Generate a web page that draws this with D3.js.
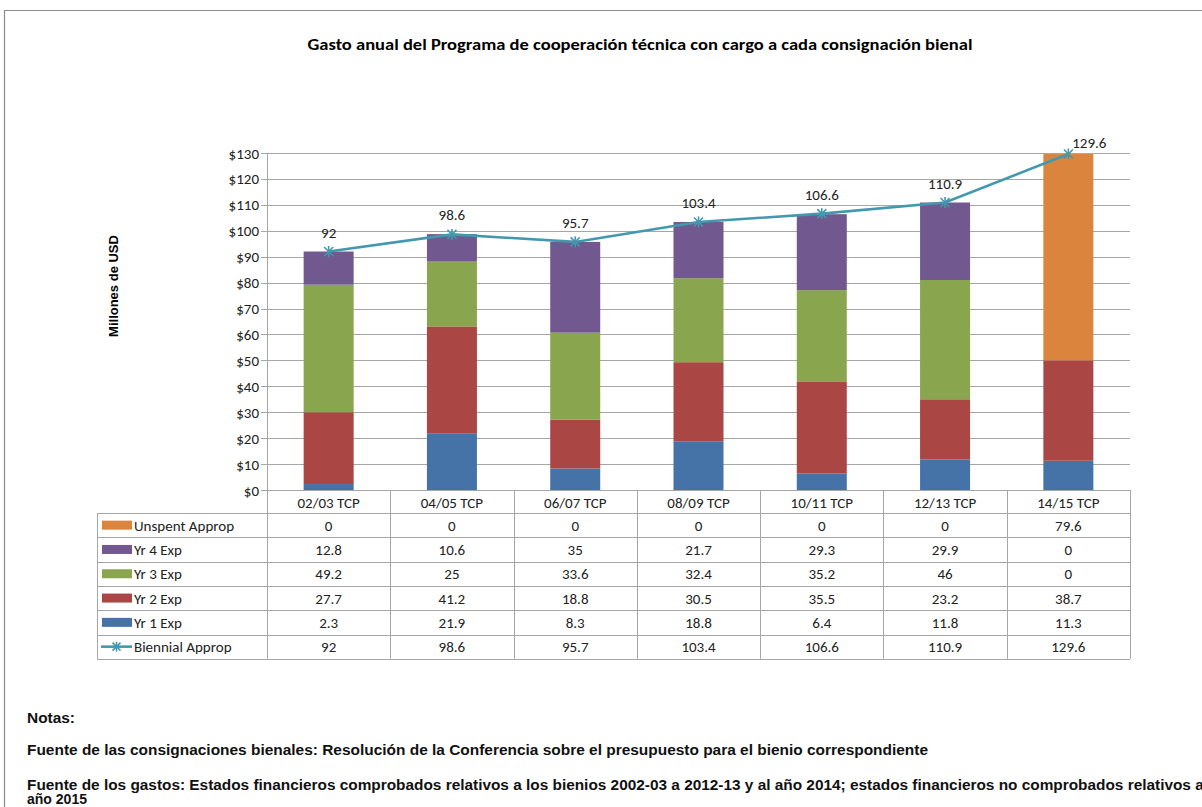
<!DOCTYPE html>
<html><head><meta charset="utf-8">
<script src="https://cdn.jsdelivr.net/npm/d3@7"></script>
<style>
body{margin:0;background:#fff;}
svg{display:block;}
</style></head>
<body>
<svg id="chart" width="1202" height="807"></svg>
<script>
const categories = ["02/03 TCP","04/05 TCP","06/07 TCP","08/09 TCP","10/11 TCP","12/13 TCP","14/15 TCP"];
const yr1Exp = [2.3,21.9,8.3,18.8,6.4,11.8,11.3];
const yr2Exp = [27.7,41.2,18.8,30.5,35.5,23.2,38.7];
const yr3Exp = [49.2,25,33.6,32.4,35.2,46,0];
const yr4Exp = [12.8,10.6,35,21.7,29.3,29.9,0];
const unspentApprop = [0,0,0,0,0,0,79.6];
const biennialApprop = [92,98.6,95.7,103.4,106.6,110.9,129.6];
const yTicks = [0,10,20,30,40,50,60,70,80,90,100,110,120,130];

const seriesNames = ["Yr 1 Exp","Yr 2 Exp","Yr 3 Exp","Yr 4 Exp","Unspent Approp"];
const seriesData = [yr1Exp,yr2Exp,yr3Exp,yr4Exp,unspentApprop];
const colors = ["#4572A7","#AA4643","#89A54E","#71588F","#DB843D"];
const lineColor = "#4198AF";

const svg = d3.select("#chart");
const font = "Carlito, Calibri, 'Open Sans', sans-serif";
const fs = 15;

// outer frame
svg.append("line").attr("x1",4).attr("x2",1202).attr("y1",10.5).attr("y2",10.5).attr("stroke","#8c8c8c").attr("stroke-width",1.2);
svg.append("line").attr("x1",4.5).attr("x2",4.5).attr("y1",10).attr("y2",807).attr("stroke","#8c8c8c").attr("stroke-width",1.2);

svg.append("text").attr("x",640).attr("y",50).attr("text-anchor","middle")
  .attr("font-family",font).attr("font-weight","bold").attr("font-size",15)
  .attr("textLength",665).attr("lengthAdjust","spacingAndGlyphs")
  .text("Gasto anual del Programa de cooperación técnica con cargo a cada consignación bienal");

const x0 = 267, x1 = 1130, yTop = 153, yBot = 490;
const x = d3.scaleBand().domain(categories).range([x0,x1]);
const y = d3.scaleLinear().domain([0,130]).range([yBot,yTop]);

// gridlines
svg.append("g").selectAll("line").data(yTicks).join("line")
  .attr("x1",x0-6).attr("x2",x1).attr("y1",d=>Math.round(y(d))+0.5).attr("y2",d=>Math.round(y(d))+0.5)
  .attr("stroke","#a6a6a6").attr("stroke-width",1);
svg.append("line").attr("x1",x0+0.5).attr("x2",x0+0.5).attr("y1",yTop).attr("y2",yBot).attr("stroke","#a6a6a6");

// y tick labels
svg.append("g").selectAll("text").data(yTicks).join("text")
  .attr("x",x0-8).attr("y",d=>y(d)+5.5).attr("text-anchor","end")
  .attr("font-family",font).attr("font-size",fs).attr("fill","#222")
  .text(d=>"$"+d);

svg.append("text").attr("transform","translate(118,286) rotate(-90)").attr("text-anchor","middle")
  .attr("font-family","'Liberation Sans', Arial, sans-serif").attr("font-weight","bold").attr("font-size",13)
  .text("Millones de USD");

// stacked bars
const stackInput = categories.map((c,i)=>{const o={cat:c}; seriesNames.forEach((s,j)=>o[s]=seriesData[j][i]); return o;});
const stacked = d3.stack().keys(seriesNames)(stackInput);
const bw = 50;
svg.append("g").selectAll("g").data(stacked).join("g").attr("fill",(d,i)=>colors[i])
  .selectAll("rect").data(d=>d).join("rect")
  .attr("x",d=>x(d.data.cat)+x.bandwidth()/2-bw/2).attr("width",bw)
  .attr("y",d=>y(d[1])).attr("height",d=>Math.max(0,y(d[0])-y(d[1])));

// line
const cx = c=>x(c)+x.bandwidth()/2;
svg.append("path").datum(biennialApprop)
  .attr("d",d3.line().x((d,i)=>cx(categories[i])).y(d=>y(d)))
  .attr("fill","none").attr("stroke",lineColor).attr("stroke-width",2.6);
function star(g,px,py,r){
  const s = g.append("g").attr("transform",`translate(${px},${py})`).attr("stroke",lineColor).attr("stroke-width",1.6);
  s.append("line").attr("x1",-r).attr("x2",r).attr("y1",-r).attr("y2",r);
  s.append("line").attr("x1",-r).attr("x2",r).attr("y1",r).attr("y2",-r);
  s.append("line").attr("x1",0).attr("x2",0).attr("y1",-r-1).attr("y2",r+1);
}
const markers = svg.append("g");
biennialApprop.forEach((v,i)=>star(markers,cx(categories[i]),y(v),4.5));
svg.append("g").selectAll("text").data(biennialApprop).join("text")
  .attr("x",(d,i)=>cx(categories[i])+(i===6?21:0)).attr("y",(d,i)=>y(d)-(i===6?6:14)).attr("text-anchor","middle")
  .attr("font-family",font).attr("font-size",fs).attr("fill","#222").text(d=>d);

// data table
const tLeft = 97, rowH = 24.3, tTop = 513;
const rows = [
  {name:"Unspent Approp", vals:unspentApprop, color:colors[4]},
  {name:"Yr 4 Exp", vals:yr4Exp, color:colors[3]},
  {name:"Yr 3 Exp", vals:yr3Exp, color:colors[2]},
  {name:"Yr 2 Exp", vals:yr2Exp, color:colors[1]},
  {name:"Yr 1 Exp", vals:yr1Exp, color:colors[0]},
  {name:"Biennial Approp", vals:biennialApprop, line:true}
];
const tBot = tTop + rowH*rows.length;
const grid = svg.append("g").attr("stroke","#a6a6a6").attr("stroke-width",1);
categories.forEach((c,i)=>{
  grid.append("line").attr("x1",Math.round(x(c))+0.5).attr("x2",Math.round(x(c))+0.5).attr("y1",yBot).attr("y2",tBot);
});
grid.append("line").attr("x1",x1+0.5).attr("x2",x1+0.5).attr("y1",yBot).attr("y2",tBot);
grid.append("line").attr("x1",tLeft+0.5).attr("x2",tLeft+0.5).attr("y1",tTop).attr("y2",tBot);
for(let r=0;r<=rows.length;r++){
  const yy = Math.round(tTop+r*rowH)+0.5;
  grid.append("line").attr("x1",tLeft).attr("x2",x1).attr("y1",yy).attr("y2",yy);
}
// header labels
svg.append("g").selectAll("text").data(categories).join("text")
  .attr("x",c=>cx(c)).attr("y",507.5).attr("text-anchor","middle")
  .attr("font-family",font).attr("font-size",fs).attr("fill","#222").text(c=>c);

rows.forEach((r,ri)=>{
  const yc = tTop + ri*rowH + rowH/2;
  if(r.line){
    svg.append("line").attr("x1",101).attr("x2",132).attr("y1",yc).attr("y2",yc).attr("stroke",lineColor).attr("stroke-width",2.6);
    star(svg,116.5,yc,4);
  } else {
    svg.append("rect").attr("x",102).attr("y",yc-4.5).attr("width",30).attr("height",9).attr("fill",r.color);
  }
  svg.append("text").attr("x",134).attr("y",yc+5.5).attr("font-family",font).attr("font-size",fs).attr("fill","#222").text(r.name);
  svg.append("g").selectAll("text").data(r.vals).join("text")
    .attr("x",(d,i)=>cx(categories[i])).attr("y",yc+5.5).attr("text-anchor","middle")
    .attr("font-family",font).attr("font-size",fs).attr("fill","#222").text(d=>d);
});

// notes
const nf = "'Liberation Sans Narrow', 'Arial Narrow', 'Liberation Sans', Arial, sans-serif";
const notes = [
  {t:"Notas:", y:723, w:48},
  {t:"Fuente de las consignaciones bienales: Resolución de la Conferencia sobre el  presupuesto para el bienio correspondiente", y:755, w:901},
  {t:"Fuente de los gastos: Estados financieros comprobados relativos a los bienios 2002-03 a 2012-13 y al año 2014; estados financieros no comprobados relativos al", y:790, w:1181},
  {t:"año 2015", y:804, w:60}
];
svg.append("g").selectAll("text").data(notes).join("text")
  .attr("x",27).attr("y",d=>d.y).attr("font-family",nf).attr("font-weight","bold").attr("font-size",14).attr("fill","#111")
  .attr("textLength",d=>d.w).attr("lengthAdjust","spacingAndGlyphs")
  .text(d=>d.t);
</script>
</body></html>
